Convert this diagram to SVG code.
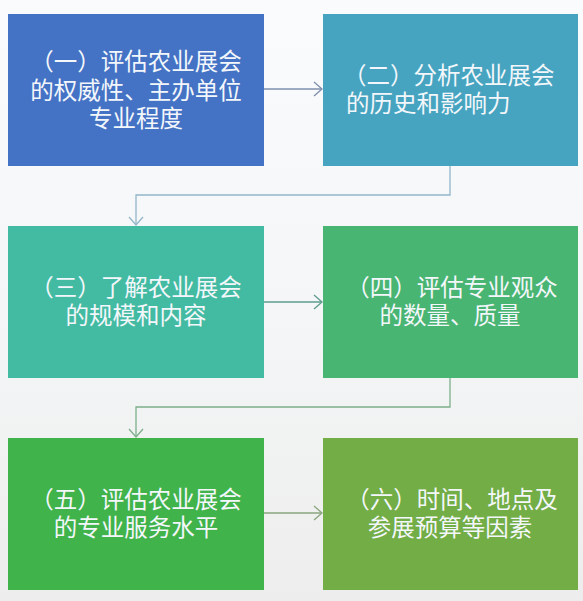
<svg xmlns="http://www.w3.org/2000/svg" width="583" height="601" viewBox="0 0 583 601">
<defs>
<linearGradient id="bg" x1="0" y1="0" x2="0" y2="1">
<stop offset="0" stop-color="#FAFBFD"/>
<stop offset="0.5" stop-color="#F5F6F7"/>
<stop offset="1" stop-color="#ECEDEC"/>
</linearGradient>
</defs>
<style>
.lbl{font-family:"Noto Sans CJK SC","Noto Sans",sans-serif;font-size:23.5px;fill:#F3F7FB;text-anchor:middle}
.st{text-anchor:start}
.c{fill:none;stroke-width:1.3}
</style>
<rect x="0" y="0" width="583" height="601" fill="url(#bg)"/>
<g id="connectors">
<line class="c" stroke="#7F8FAE" x1="264" y1="89" x2="322" y2="89"/>
<polyline class="c" stroke="#7F8FAE" points="314,82 322,89 314,96"/>
<polyline class="c" stroke="#92B6CA" points="450,166 450,195 136,195 136,225"/>
<polyline class="c" stroke="#92B6CA" points="129,217 136,225 143,217"/>
<line class="c" stroke="#5E9C8C" x1="264" y1="302" x2="322" y2="302"/>
<polyline class="c" stroke="#5E9C8C" points="314,295 322,302 314,309"/>
<polyline class="c" stroke="#7DAF8C" points="450,378 450,407 136,407 136,437"/>
<polyline class="c" stroke="#7DAF8C" points="129,429 136,437 143,429"/>
<line class="c" stroke="#8AA67E" x1="264" y1="513" x2="322" y2="513"/>
<polyline class="c" stroke="#8AA67E" points="314,506 322,513 314,520"/>
</g>
<g id="node1">
<rect x="8" y="14" width="256" height="152" fill="#4472C4"/>
<text class="lbl"><tspan x="136" y="70">（一）评估农业展会</tspan><tspan x="136" y="99">的权威性、主办单位</tspan><tspan x="136" y="127">专业程度</tspan></text>
</g>
<g id="node2">
<rect x="323" y="14" width="255" height="152" fill="#46A4C0"/>
<text class="lbl st"><tspan x="343" y="84">（二）分析农业展会</tspan><tspan x="346" y="112">的历史和影响力</tspan></text>
</g>
<g id="node3">
<rect x="8" y="226" width="256" height="152" fill="#43BBA2"/>
<text class="lbl"><tspan x="136" y="296">（三）了解农业展会</tspan><tspan x="136" y="324">的规模和内容</tspan></text>
</g>
<g id="node4">
<rect x="323" y="226" width="255" height="152" fill="#48B572"/>
<text class="lbl"><tspan x="452" y="296">（四）评估专业观众</tspan><tspan x="450" y="324">的数量、质量</tspan></text>
</g>
<g id="node5">
<rect x="8" y="438" width="256" height="152" fill="#40B34B"/>
<text class="lbl"><tspan x="136" y="508">（五）评估农业展会</tspan><tspan x="136" y="536">的专业服务水平</tspan></text>
</g>
<g id="node6">
<rect x="323" y="438" width="255" height="152" fill="#72AD45"/>
<text class="lbl"><tspan x="452" y="508">（六）时间、地点及</tspan><tspan x="450" y="536">参展预算等因素</tspan></text>
</g>
</svg>
